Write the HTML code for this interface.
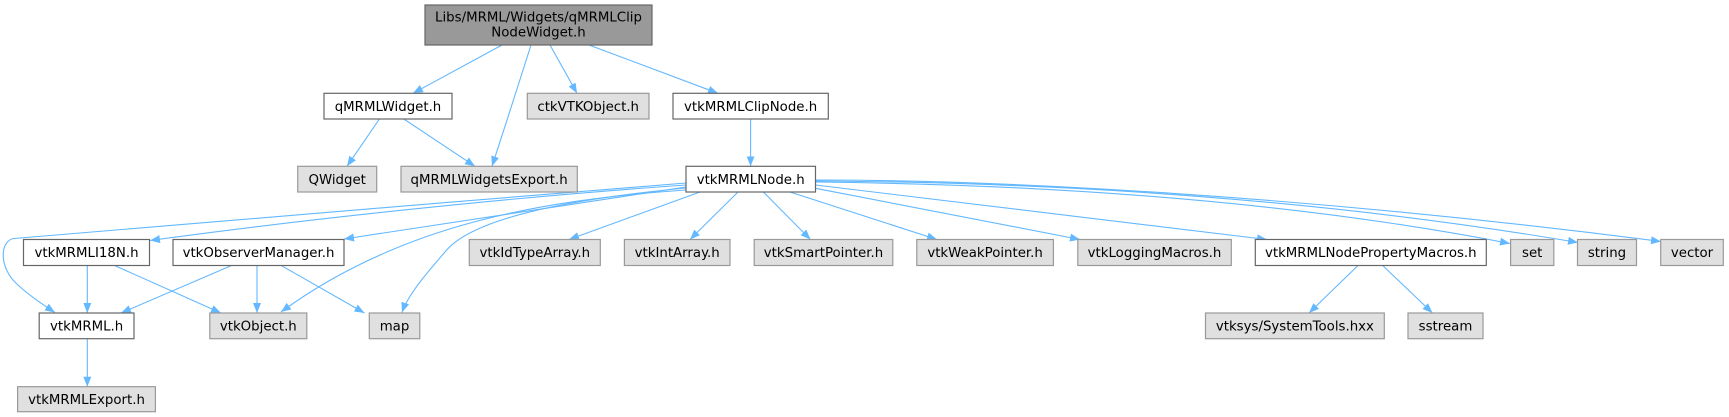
<!DOCTYPE html>
<html><head><meta charset="utf-8"><style>
html,body{margin:0;padding:0;background:#fff;}
svg{display:block;}
text{font-family:"DejaVu Sans","Liberation Sans",sans-serif;font-size:13.33px;fill:#000;text-anchor:middle;}
.e{fill:none;stroke:#63b8ff;stroke-width:1.1;marker-end:url(#a);}
.w{fill:#fff;stroke:#666;stroke-width:1.2;}
.g{fill:#e0e0e0;stroke:#999;stroke-width:1.2;}
</style></head><body>
<svg width="1729" height="417" viewBox="0 0 1729 417" xmlns="http://www.w3.org/2000/svg">
<defs><marker id="a" viewBox="0 0 10 8" refX="10" refY="4" markerWidth="10" markerHeight="8" markerUnits="userSpaceOnUse" orient="auto"><path d="M0,0 L10,4 L0,8 z" fill="#63b8ff"/></marker></defs>
<rect width="1729" height="417" fill="#fff"/>
<!-- edges -->
<path class="e" d="M502,45 L413,93.3"/>
<path class="e" d="M531,45 Q512,105 492,166.3"/>
<path class="e" d="M550,45 L577,93.3"/>
<path class="e" d="M589,45 L718,93.3"/>
<path class="e" d="M379.4,119 L347,166.3"/>
<path class="e" d="M403.8,119 L475,166.3"/>
<path class="e" d="M750.6,119 L750.6,166.3"/>
<path class="e" d="M686,183 C450,202 100,231 14,238.5 C0,240 -2,268 18,285 C30,296 42,304 55,312.5"/>
<path class="e" d="M686,185 C500,198 300,220 150,240.5"/>
<path class="e" d="M686,187 L344,239"/>
<path class="e" d="M686,190 C540,200 400,225 281,312"/>
<path class="e" d="M686,188 C560,200 470,220 445,252 C425,275 408,295 402,312.5"/>
<path class="e" d="M700,192 L569,239.5"/>
<path class="e" d="M738,192 L690,239.5"/>
<path class="e" d="M763.4,192 L810.5,239.5"/>
<path class="e" d="M790,192 L937,239.5"/>
<path class="e" d="M815.5,188.3 L1080,239.5"/>
<path class="e" d="M815.5,185 L1267,239.5"/>
<path class="e" d="M815.5,182 C1000,184 1260,195 1510,243.5"/>
<path class="e" d="M815.5,181 C1000,182 1280,192 1578,242.5"/>
<path class="e" d="M815.5,180 C1000,180 1300,195 1661,241.5"/>
<path class="e" d="M87.3,265.7 L87.3,313"/>
<path class="e" d="M115,265.7 L221,313"/>
<path class="e" d="M231,265.7 L121,313"/>
<path class="e" d="M257,265.7 L257,313"/>
<path class="e" d="M281.5,265.7 L364.5,313"/>
<path class="e" d="M87.3,339 L87.3,386.7"/>
<path class="e" d="M1358,265.5 L1309,313"/>
<path class="e" d="M1382.7,265.5 L1432.5,313"/>
<!-- nodes -->
<rect x="425" y="5" width="227" height="40" fill="#999" stroke="#666" stroke-width="1.2"/>
<text x="538.5" y="21.5">Libs/MRML/Widgets/qMRMLClip</text>
<text x="538.5" y="36.5">NodeWidget.h</text>

<rect class="w" x="324" y="93.3" width="128" height="25.7"/><text x="388" y="110.8">qMRMLWidget.h</text>
<rect class="g" x="527.3" y="93.3" width="121.7" height="25.7"/><text x="588.2" y="110.8">ctkVTKObject.h</text>
<rect class="w" x="673" y="93.3" width="155.3" height="25.7"/><text x="750.6" y="110.8">vtkMRMLClipNode.h</text>

<rect class="g" x="297.7" y="166.3" width="79" height="25.7"/><text x="337.2" y="183.8">QWidget</text>
<rect class="g" x="401" y="166.3" width="176.3" height="25.7"/><text x="489.1" y="183.8">qMRMLWidgetsExport.h</text>
<rect class="w" x="686" y="166.3" width="129.5" height="25.7"/><text x="750.7" y="183.8">vtkMRMLNode.h</text>

<rect class="w" x="23.5" y="239.5" width="126" height="26"/><text x="86.5" y="257.2">vtkMRMLI18N.h</text>
<rect class="w" x="173" y="239.5" width="171" height="26"/><text x="258.5" y="257.2">vtkObserverManager.h</text>
<rect class="g" x="469.3" y="239.5" width="131" height="26"/><text x="534.8" y="257.2">vtkIdTypeArray.h</text>
<rect class="g" x="624.4" y="239.5" width="105.6" height="26"/><text x="677.2" y="257.2">vtkIntArray.h</text>
<rect class="g" x="754.2" y="239.5" width="138.6" height="26"/><text x="823.5" y="257.2">vtkSmartPointer.h</text>
<rect class="g" x="916.8" y="239.5" width="136.6" height="26"/><text x="985.1" y="257.2">vtkWeakPointer.h</text>
<rect class="g" x="1077.8" y="239.5" width="153.5" height="26"/><text x="1154.5" y="257.2">vtkLoggingMacros.h</text>
<rect class="w" x="1255.3" y="239.5" width="231" height="26"/><text x="1370.8" y="257.2">vtkMRMLNodePropertyMacros.h</text>
<rect class="g" x="1510.6" y="239.5" width="43.2" height="26"/><text x="1532.2" y="257.2">set</text>
<rect class="g" x="1577.5" y="239.5" width="59" height="26"/><text x="1607" y="257.2">string</text>
<rect class="g" x="1660.7" y="239.5" width="62.6" height="26"/><text x="1692" y="257.2">vector</text>

<rect class="w" x="39.2" y="313" width="94.8" height="25.7"/><text x="86.6" y="330.5">vtkMRML.h</text>
<rect class="g" x="209.8" y="313" width="97" height="25.7"/><text x="258.3" y="330.5">vtkObject.h</text>
<rect class="g" x="369.3" y="313" width="50.5" height="25.7"/><text x="394.5" y="330.5">map</text>
<rect class="g" x="1205.5" y="313" width="178.8" height="25.7"/><text x="1294.9" y="330.5">vtksys/SystemTools.hxx</text>
<rect class="g" x="1408" y="313" width="75" height="25.7"/><text x="1445.5" y="330.5">sstream</text>

<rect class="g" x="17.6" y="386.7" width="137.8" height="25"/><text x="86.5" y="403.8">vtkMRMLExport.h</text>
</svg>
</body></html>
